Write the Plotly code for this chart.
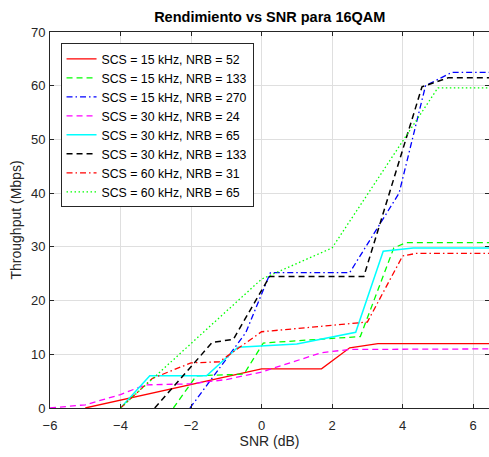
import plotly.graph_objects as go

# Series data (SNR in dB, throughput in Mbps)
names = [
    "SCS = 15 kHz, NRB = 52",
    "SCS = 15 kHz, NRB = 133",
    "SCS = 15 kHz, NRB = 270",
    "SCS = 30 kHz, NRB = 24",
    "SCS = 30 kHz, NRB = 65",
    "SCS = 30 kHz, NRB = 133",
    "SCS = 60 kHz, NRB = 31",
    "SCS = 60 kHz, NRB = 65",
]

snr_15_52 = [-5, 0, 1.7, 2.5, 3.3, 6.45]
thr_15_52 = [0, 7.3, 7.3, 11.2, 12.0, 12.0]

snr_15_133 = [-2.5, -1.85, -0.5, 0.05, 2.8, 3.75, 4.1, 6.45]
thr_15_133 = [0, 6.0, 6.3, 12.1, 13.3, 29.8, 30.8, 30.8]

snr_15_270 = [-2.03, -0.45, 0.25, 2.5, 3.9, 4.65, 5.4, 6.45]
thr_15_270 = [0, 14.0, 25.2, 25.2, 40.0, 60.0, 62.5, 62.5]

snr_30_24 = [-6, -5, -4, -3.3, -2, -1, 0, 1.7, 2.5, 6.45]
thr_30_24 = [0, 0.6, 2.5, 4.3, 4.5, 5.3, 6.7, 10.3, 10.9, 11.0]

snr_30_65 = [-4, -3.17, -1.56, -0.67, 1.0, 2.67, 3.45, 4.3, 6.45]
thr_30_65 = [0, 6.0, 6.0, 11.3, 11.9, 14.1, 29.2, 29.8, 29.8]

snr_30_133 = [-3.03, -1.4, -0.8, 0.23, 2.9, 4.55, 5.3, 6.45]
thr_30_133 = [0, 12.2, 12.8, 24.5, 24.5, 59.8, 61.5, 61.5]

snr_60_31 = [-4, -3.1, -2.0, -1.2, 0.0, 3.0, 4.0, 4.4, 6.45]
thr_60_31 = [0, 5.5, 8.4, 8.6, 14.2, 16.0, 28.3, 28.8, 28.8]

snr_60_65 = [-4, 0, 2, 4, 5, 6.45]
thr_60_65 = [0, 24.0, 29.8, 49.8, 59.6, 59.6]

xs = [snr_15_52, snr_15_133, snr_15_270, snr_30_24, snr_30_65, snr_30_133, snr_60_31, snr_60_65]
ys = [thr_15_52, thr_15_133, thr_15_270, thr_30_24, thr_30_65, thr_30_133, thr_60_31, thr_60_65]
colors = ["#FF0000", "#00FF00", "#0000FF", "#FF00FF", "#00FFFF", "#000000", "#FF0000", "#00FF00"]
dashes = ["solid", "6px,4px", "6px,3px,1.5px,3px", "6px,4px", "solid", "6px,4px", "6px,3px,1.5px,3px", "1.5px,2.5px"]
widths = [1.3, 1.3, 1.3, 1.3, 1.5, 1.5, 1.3, 1.3]

x_ticks = [-6, -4, -2, 0, 2, 4, 6]
y_ticks = [0, 10, 20, 30, 40, 50, 60, 70]

fig = go.Figure()
for n, x, y, c, d, w in zip(names, xs, ys, colors, dashes, widths):
    fig.add_trace(go.Scatter(x=x, y=y, mode="lines", name=n,
                             line=dict(color=c, dash=d, width=w)))

FONT = "Liberation Sans, Arial"
axis_common = dict(
    showline=True, linecolor="#262626", linewidth=1, mirror="ticks",
    ticks="inside", ticklen=4, tickcolor="#262626",
    showgrid=True, gridcolor="#DFDFDF", gridwidth=1,
    zeroline=False,
    tickfont=dict(family=FONT, size=13, color="#262626"),
)

fig.update_layout(
    width=489, height=457,
    margin=dict(l=50, r=0, t=32, b=49),
    paper_bgcolor="white", plot_bgcolor="white",
    title=dict(text="<b>Rendimiento vs SNR para 16QAM</b>", x=(50 + 439.5 / 2) / 489, xanchor="center",
               y=1 - 17 / 457, yanchor="middle",
               font=dict(family=FONT, size=14.5, color="#000000")),
    xaxis=dict(range=[-6, 6.45], tickvals=x_ticks, ticklabelstandoff=5,
               title=dict(text="SNR (dB)", standoff=4,
                          font=dict(family=FONT, size=14, color="#262626")),
               **axis_common),
    yaxis=dict(range=[0, 70], tickvals=y_ticks, ticklabelstandoff=1,
               title=dict(text="Throughput (Mbps)", standoff=6,
                          font=dict(family=FONT, size=14, color="#262626")),
               **axis_common),
    legend=dict(x=0.024, y=0.97, xanchor="left", yanchor="top",
                bgcolor="white", bordercolor="#262626", borderwidth=1,
                font=dict(family=FONT, size=12.3, color="#000000"),
                tracegroupgap=0, itemwidth=30),
    showlegend=True,
)

fig.write_html("out.html")
